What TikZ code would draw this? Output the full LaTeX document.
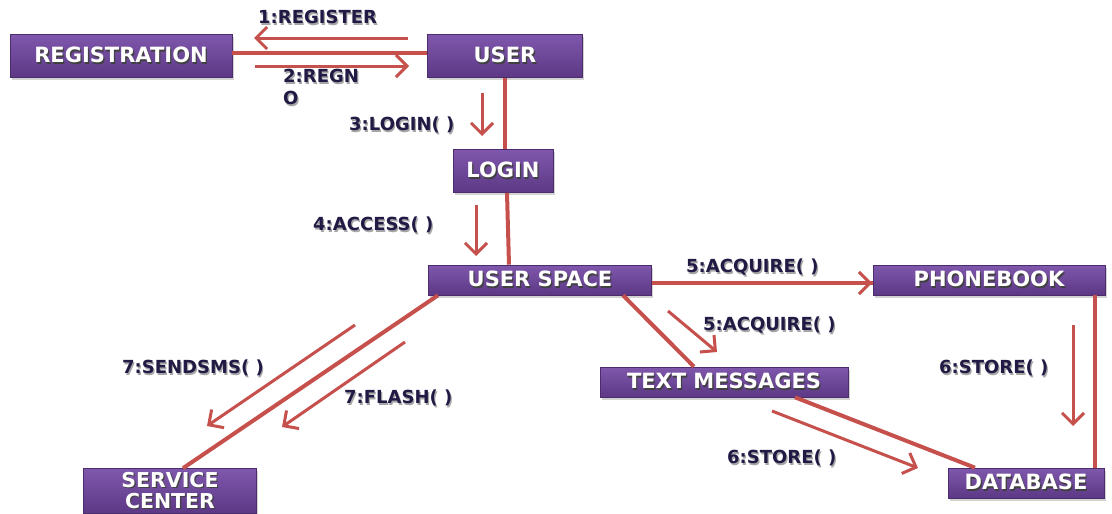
\documentclass[tikz,border=0pt]{standalone}
\usepackage{fontspec}
\setmainfont{DejaVu Sans}
\usetikzlibrary{arrows.meta,shadows}
\definecolor{boxtop}{HTML}{7F57AC}
\definecolor{boxbot}{HTML}{5C3885}
\definecolor{link}{HTML}{C6504C}
\definecolor{lbl}{HTML}{221A45}
% text with a soft dark copy behind it
\newcommand\shtxt[2]{\rlap{\hspace{1.2pt}\raisebox{-1.6pt}{\textcolor{#1}{#2}}}#2}
\begin{document}
\begin{tikzpicture}[x=1pt,y=-1pt,
  obj/.style={draw=boxbot!80!black, line width=0.6pt, top color=boxtop, bottom color=boxbot,
    minimum height=30pt, drop shadow={opacity=0.35, shadow xshift=1.5pt, shadow yshift=-2.5pt},
    text=white, font=\bfseries\fontsize{21}{22}\selectfont, align=center, inner sep=1pt},
  assoc/.style={draw=link, line width=4pt},
  msg/.style={draw=link, line width=3pt, -{Straight Barb[length=11pt,width=22pt,line width=3pt]}},
  msgtext/.style={text=lbl, font=\bfseries\fontsize{18}{19}\selectfont, inner sep=0pt, align=left}
]
\useasboundingbox (0,0) rectangle (1112,514);

% objects
\node[obj, minimum width=222pt, minimum height=43pt] (reg) at (121,56) {\shtxt{black!75}{REGISTRATION}};
\node[obj, minimum width=155pt, minimum height=43pt] (user) at (505,56) {\shtxt{black!75}{USER}};
\node[obj, minimum width=100pt, minimum height=43pt] (login) at (503,171) {\shtxt{black!75}{LOGIN}};
\node[obj, minimum width=223pt] (space) at (540,280) {\shtxt{black!75}{USER SPACE}};
\node[obj, minimum width=232pt] (phone) at (989,280) {\shtxt{black!75}{PHONEBOOK}};
\node[obj, minimum width=248pt] (text) at (724,382) {\shtxt{black!75}{TEXT MESSAGES}};
\node[obj, minimum width=156pt] (db) at (1026,483) {\shtxt{black!75}{DATABASE}};
\node[obj, minimum width=173pt, minimum height=45pt, font=\bfseries\fontsize{20.5}{21}\selectfont] (sc) at (170,491)
  {\shtxt{black!75}{SERVICE}\\\shtxt{black!75}{CENTER}};

% links between objects
\draw[assoc] (reg.east |- 0,53) -- (user.west |- 0,53);
\draw[assoc] (user.south) -- (login.north -| 505,0);
\draw[assoc] (login.south -| 507,0) -- (space.north -| 509,0);
\draw[assoc] (space.east |- 0,283) -- (phone.west |- 0,283);
\draw[assoc] (phone.south -| 1095,0) -- (db.north -| 1095,0);
\draw[assoc] (space.south -| 623,0) -- (text.north -| 694,0);
\draw[assoc] (text.south -| 795,0) -- (db.north -| 975,0);
\draw[assoc] (space.south -| 438,0) -- (sc.north -| 183,0);

% messages
\coordinate (m1a) at (408,38);  \coordinate (m1b) at (254,38);
\coordinate (m2a) at (255,66);  \coordinate (m2b) at (409,66);
\coordinate (m3a) at (482,93);  \coordinate (m3b) at (482,136);
\coordinate (m4a) at (476,205); \coordinate (m4b) at (476,256);
\coordinate (m5a) at (813,283); \coordinate (m5b) at (872,283);
\coordinate (m6a) at (668,311); \coordinate (m6b) at (717,352);
\coordinate (m7a) at (1073,325); \coordinate (m7b) at (1073,426);
\coordinate (m8a) at (772,411); \coordinate (m8b) at (918,468);
\coordinate (m9a) at (355,325); \coordinate (m9b) at (207,426);
\coordinate (m10a) at (405,342); \coordinate (m10b) at (282,427);
\foreach \m in {1,...,10} \draw[msg] (m\m a) -- (m\m b);

% message labels, placed by their left ends
\foreach \n/\x/\y/\t in {l1/258/18/{1:REGISTER}, l2/283/77/{2:REGN}, l2b/283/99/{O},
  l3/349/126/{3:LOGIN( )}, l4/313/226/{4:ACCESS( )}, l5/686/268/{5:ACQUIRE( )},
  l6/703/326/{5:ACQUIRE( )}, l7/939/369/{6:STORE( )}, l8/727/459/{6:STORE( )},
  l9/122/369/{7:SENDSMS( )}, l10/344/399/{7:FLASH( )}}{
  \coordinate (\n-at) at (\x,\y);
  \node[msgtext, anchor=west] (\n) at (\n-at) {\shtxt{black!35}{\t}};
}
\end{tikzpicture}
\end{document}
